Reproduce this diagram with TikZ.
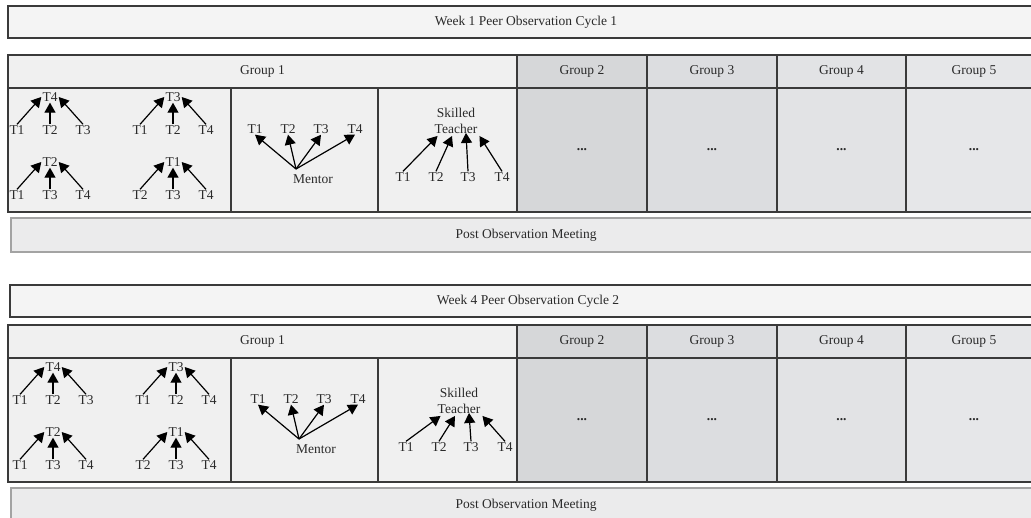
\documentclass[tikz,border=0pt]{standalone}
\usepackage{fontspec}
\setmainfont{Liberation Serif}
\usetikzlibrary{arrows.meta}
\definecolor{bordc}{HTML}{3A3A3A}
\definecolor{txtc}{HTML}{2A2A2A}
\definecolor{weekfill}{HTML}{F4F4F4}
\definecolor{gafill}{HTML}{F0F0F0}
\definecolor{gbfill}{HTML}{D6D7D9}
\definecolor{gcfill}{HTML}{DCDDE0}
\definecolor{gdfill}{HTML}{E2E3E5}
\definecolor{gefill}{HTML}{E6E7E9}
\definecolor{postfill}{HTML}{EBEBEC}
\definecolor{postbord}{HTML}{A3A3A3}
\tikzset{
  cell/.style={draw=bordc, line width=1.4pt, anchor=north west, inner sep=0pt, outer sep=0pt, text=txtc},
  postbox/.style={cell, draw=postbord, line width=1.6pt, fill=postfill},
  lbl/.style={inner sep=1pt, text=txtc},
  obsarrow/.style={draw=black, line width=1.2pt, -{Triangle[length=10pt,width=11pt]}},
}
\begin{document}
\begin{tikzpicture}[x=1pt,y=-1pt,font=\fontsize{13.5}{16}\selectfont]
\useasboundingbox (0,0) rectangle (1031,517);
\clip (0,0) rectangle (1031,517);
\fill[white] (0,0) rectangle (1031,517);
\foreach \p/\dy/\wt/\wl/\wn/\cn/\dxa/\sty in {a/0/6/8/1/1/0/0, b/270/15/10/4/2/3/10}{
  \begin{scope}[shift={(0,\dy)}]
    % week banner
    \node[cell, fill=weekfill, minimum width=1036pt, minimum height=32pt] (\p-week) at (\wl,\wt) {Week \wn\ Peer Observation Cycle \cn};
    % header row
    \node[cell, fill=gafill, minimum width=509pt, minimum height=33pt] (\p-g1) at (8,55) {Group 1};
    \node[cell, fill=gbfill, minimum width=130pt, minimum height=33pt] (\p-g2) at (517,55) {Group 2};
    \node[cell, fill=gcfill, minimum width=130pt, minimum height=33pt] (\p-g3) at (647,55) {Group 3};
    \node[cell, fill=gdfill, minimum width=129pt, minimum height=33pt] (\p-g4) at (777,55) {Group 4};
    \node[cell, fill=gefill, minimum width=136pt, minimum height=33pt] (\p-g5) at (906,55) {Group 5};
    % body row
    \node[cell, fill=gafill, minimum width=223pt, minimum height=124pt] (\p-c1) at (8,88) {};
    \node[cell, fill=gafill, minimum width=147pt, minimum height=124pt] (\p-c2) at (231,88) {};
    \node[cell, fill=gafill, minimum width=139pt, minimum height=124pt] (\p-c3) at (378,88) {};
    \node[cell, fill=gbfill, minimum width=130pt, minimum height=124pt] (\p-b2) at (517,88) {\textbf{...}};
    \node[cell, fill=gcfill, minimum width=130pt, minimum height=124pt] (\p-b3) at (647,88) {\textbf{...}};
    \node[cell, fill=gdfill, minimum width=129pt, minimum height=124pt] (\p-b4) at (777,88) {\textbf{...}};
    \node[cell, fill=gefill, minimum width=136pt, minimum height=124pt] (\p-b5) at (906,88) {\textbf{...}};
    % post observation meeting
    \node[postbox, minimum width=1030pt, minimum height=34pt] (\p-post) at (11,218) {Post Observation Meeting};
    \begin{scope}[shift={(\dxa,0)}]
      % peer observation trees
      \foreach \t/\cx/\cy/\ap/\la/\lb/\lc in {1/50/97/T4/T1/T2/T3, 2/173/97/T3/T1/T2/T4, 3/50/162/T2/T1/T3/T4, 4/173/162/T1/T2/T3/T4}{
        \node[lbl] (\p-t\t) at (\cx,\cy) {\ap};
        \node[lbl] (\p-t\t-l) at (\cx-33,\cy+33) {\la};
        \node[lbl] (\p-t\t-m) at (\cx,\cy+33) {\lb};
        \node[lbl] (\p-t\t-r) at (\cx+33,\cy+33) {\lc};
        \draw[obsarrow] (\p-t\t-l.north) -- (\p-t\t.west);
        \draw[obsarrow] (\p-t\t-m.north) -- (\p-t\t.south);
        \draw[obsarrow] (\p-t\t-r.north) -- (\p-t\t.east);
      }
      % mentor
      \node[lbl] (\p-m1) at (255,129) {T1};
      \node[lbl] (\p-m2) at (288,129) {T2};
      \node[lbl] (\p-m3) at (321,129) {T3};
      \node[lbl] (\p-m4) at (355,129) {T4};
      \node[lbl] (\p-men) at (313,179) {Mentor};
      \coordinate (\p-mo) at (296,169);
      \draw[obsarrow] (\p-mo) -- (\p-m1.south);
      \draw[obsarrow] (\p-mo) -- (\p-m2.south);
      \draw[obsarrow] (\p-mo) -- (\p-m3.south);
      \draw[obsarrow] (\p-mo) -- (\p-m4.south);
      % skilled teacher
      \node[lbl, align=center] (\p-sk) at (456,121+\sty) {Skilled\\Teacher};
      \node[lbl] (\p-s1) at (403,177) {T1};
      \node[lbl] (\p-s2) at (436,177) {T2};
      \node[lbl] (\p-s3) at (468,177) {T3};
      \node[lbl] (\p-s4) at (502,177) {T4};
      \draw[obsarrow] (\p-s1.north) -- ([shift={(4,1)}]\p-sk.south west);
      \draw[obsarrow] (\p-s2.north) -- ([shift={(-4,1)}]\p-sk.south);
      \draw[obsarrow] (\p-s3.north) -- ([shift={(10,-2)}]\p-sk.south);
      \draw[obsarrow] (\p-s4.north) -- ([shift={(1,1)}]\p-sk.south east);
    \end{scope}
  \end{scope}
}
\end{tikzpicture}
\end{document}
